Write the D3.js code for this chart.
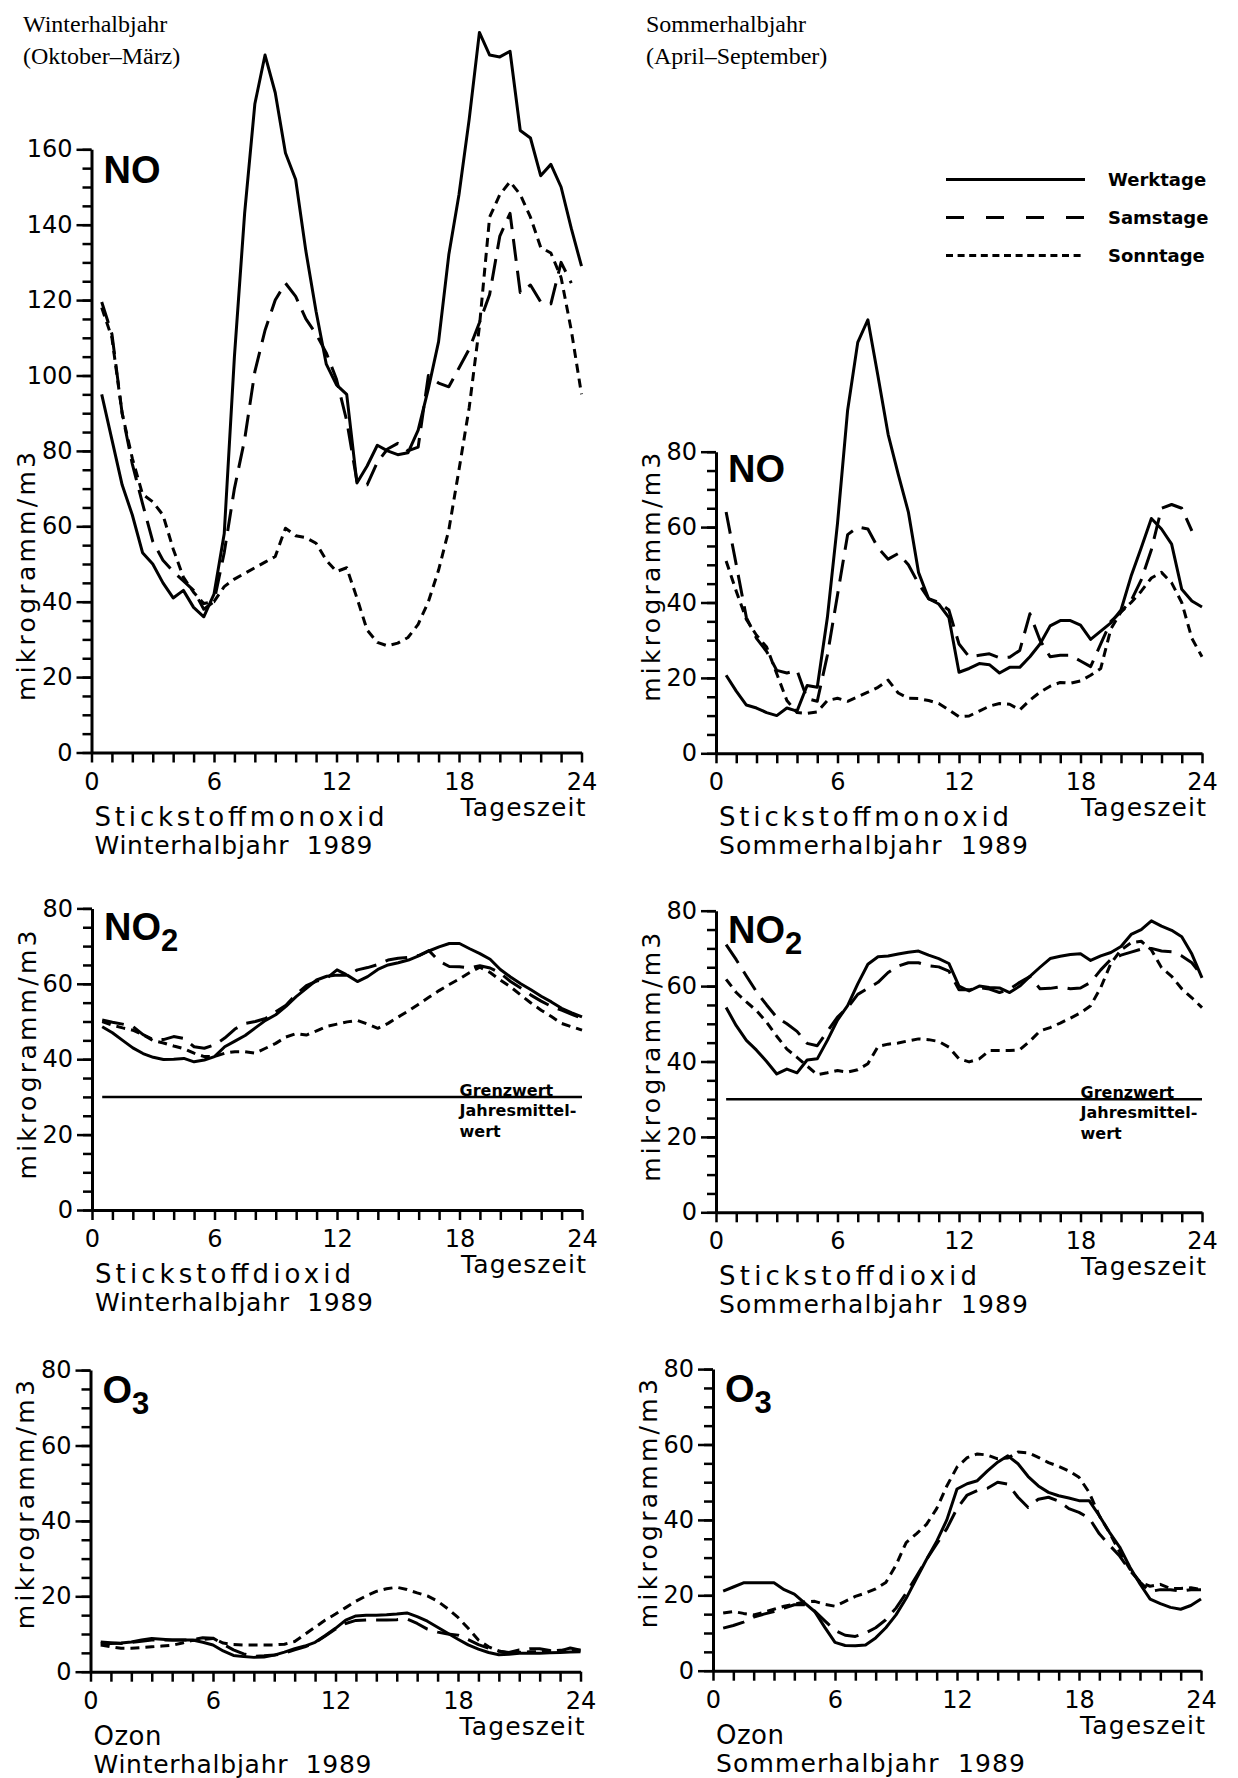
<!DOCTYPE html>
<html>
<head>
<meta charset="utf-8">
<script src="https://cdn.jsdelivr.net/npm/d3@7"></script>
<style>
  body { margin: 0; background: #fff; }
  svg text { font-family: "DejaVu Sans", sans-serif; fill: #000; }
</style>
</head>
<body>
<svg id="chart" width="1238" height="1778"></svg>
<script>
// Tageszeit (Stunden)
var hours = [0.5,1,1.5,2,2.5,3,3.5,4, 4.5,5,5.5,6,6.5,7,7.5,8, 8.5,9,9.5,10,10.5,11,11.5,12,
             12.5,13,13.5,14,14.5,15,15.5,16, 16.5,17,17.5,18,18.5,19,19.5,20, 20.5,21,21.5,22,22.5,23,23.5,24];

var seriesNames = ["Werktage", "Samstage", "Sonntage"];

// Stickstoffmonoxid, Winter
var noWinWerk = [95,83,71,63,53,50,45,41, 43,38.5,36,42,58,105,143,172, 185,175,159,152,133,117,103,97.5,
                 95,71.5,76,81.5,80,79,79.5,85.5, 96.5,109,132,148,168,191,185,184.5, 186,165,163,153,156,150,139,129];
var noWinSams = [119.5,111,90,76.5,66,56,51,48, 45.5,43,38,40,53,70,83,101, 112,120,124.5,121,115,111,106,99,
                 88,72,71,77,80.5,82,80,81, 100,98,97,102,107,114,121.5,137, 143,122,124,119.5,119,130,124.5,null];
var noWinSonn = [118,110,90,78,68.5,66.5,63,54, 46.5,42.5,39.5,40,44,46,47.5,49, 50.5,52,59.5,57.5,57,55.5,51,48,
                 49,41,32.5,29.2,28.3,29,30.5,34, 40,48.4,59,75,91.5,113,142,148, 151.4,148,142,134,132.5,126,112,95];

// Stickstoffmonoxid, Sommer
var noSumWerk = [20.7,16.5,12.8,12,10.8,10,12,11.2, 18,17.5,36,61,91,109,115,100, 84.6,74,64,48,41,39.6,36,21.5,
                 22.5,23.8,23.5,21.3,22.8,22.8,25.6,29, 33.8,35.2,35.2,34,30.2,32.4,34.6,38, 47,54.5,62.3,59.5,55.5,43.5,40.4,38.8];
var noSumSams = [64,50,36,30.5,27,22,21.3,22, 14.5,13.8,26,42,58,60,59.5,54.5, 51.5,53,50,45,41,40,38,29,
                 25.6,26,26.4,25.3,25.5,27.3,37,30, 25.6,26,26,24.5,23,29,35,37.5, 40.5,46,54,65,66,65,59,null];
var noSumSonn = [51,43,35.5,31.3,28.2,21.1,14,10.8, 10.6,11,14,14.6,13.8,15,16.2,17.5, 19.4,16,14.6,14.5,14,13.2,11.5,9.7,
                 9.9,11.2,12.5,13.2,13,11.5,14.1,16.2, 17.8,18.8,18.6,19.2,20.7,22.5,33,37.5, 40,43,46.5,48,45.2,40,30.5,25.6];

// Stickstoffdioxid, Winter
var no2WinWerk = [48.6,47,45,43,41.5,40.5,39.9,40, 40.2,39.3,39.8,40.7,43.3,44.8,46.3,48.3, 50.3,51.8,54,56.6,58.8,61,62,62.3,
                  62.3,60.6,61.9,63.8,65,65.6,66.3,67.4, 68.7,69.8,70.7,70.7,69.3,68,66.5,63.8, 61.8,60,58.4,56.7,55.2,53.5,52.3,51.2];
var no2WinSams = [50.4,49.8,49.3,48.7,46.5,45.2,45.2,46, 45.5,43.3,42.9,43.8,45.6,48,49.5,50, 50.8,52.6,54.3,57.2,59.5,60.7,61.5,63.7,
                  62.3,63.7,64.3,65.1,66.3,66.8,67,67.5, 68.8,66,64.6,64.5,64.2,64.8,64.2,62.8, 60.6,58.9,57,55.4,54,53,51.9,50.8];
var no2WinSonn = [50,49,48.3,47.7,46.5,44.9,44.3,43.5, 42.8,41.6,40.7,40.7,41.6,42,42,41.6, 42.9,44.2,45.9,46.8,46.4,47.5,48.7,49.3,
                  49.9,50.3,49.3,48.2,49.5,51.2,52.8,54.6, 56.4,58.2,59.8,61.3,63,64.4,63,61, 59.2,57,54.9,53,51.3,49.5,48.6,47.7];

// Stickstoffdioxid, Sommer
var no2SumWerk = [54.3,49.5,45.6,43,40,36.7,38,37, 40.4,40.7,45.6,51,54.8,60.6,65.8,67.8, 68,68.5,69,69.3,68.2,67.3,66,60,
                  58.7,60,59.6,59.5,58.3,60,62.6,65, 67.3,67.9,68.4,68.6,66.8,68,68.9,70.5, 73.7,75,77.3,75.9,74.8,73.1,68.5,62.2];
var no2SumSams = [71,67,62.7,58.5,55,51.7,50,48, 44.8,44.2,48,51.8,54.3,57.8,59.4,61, 63.6,65.3,66.2,66.2,65.4,65.1,64,59,
                  59,59.6,59.2,58.3,59.2,61,62.5,59.3, 59.4,59.8,59.3,59.5,61,64.3,67.1,68.2, 69,69.8,70,69.3,69.1,68,66.2,62.7];
var no2SumSonn = [61.8,58.3,55.8,53.5,50.4,46.7,43.3,41.1, 38.8,36.5,37,37.6,37.2,37.8,39.4,44, 44.6,44.9,45.5,46,45.8,45.3,43.8,40.7,
                  39.9,40.7,42.9,42.9,42.9,43.1,45.4,48.1, 49,50.2,51.5,52.9,54.8,59.6,66,69.6, 71.5,71.9,69.6,64.9,62.6,59.3,56.9,54.3];

// Ozon, Winter
var o3WinWerk = [7.5,7.5,7.6,7.9,8.4,8.8,8.6,8.4, 8.4,8.4,7.8,7.1,5.5,4.3,4,3.8, 3.9,4.4,5.2,6.1,6.8,7.8,9.6,11.5,
                 13.7,14.8,15,15,15.1,15.3,15.6,14.6, 13.4,11.8,10.2,8.6,7.1,6,5.1,4.5, 4.6,4.9,4.9,4.9,5,5.1,5.2,5.3];
var o3WinSams = [7.9,7.7,7.5,7.8,8.1,8.4,8.4,8.4, 8.4,8.5,9,8.9,7.3,5.8,4.7,4.1, 4.2,4.4,4.9,5.8,6.6,7.7,9.5,11.3,
                 12.8,13.6,13.7,13.7,13.7,13.8,14,12.8, 11.3,10.5,10,9.7,8.5,7.2,6.2,5.4, 5.1,5.8,6.1,6.1,5.6,5.5,6.3,5.7];
var o3WinSonn = [7.1,6.6,6.2,6.2,6.4,6.6,6.8,7, 7.6,8.3,8.6,8.8,7.6,7.2,7.1,7.1, 7.1,7.1,7.3,8,9.9,11.8,13.7,15.3,
                 17,18.7,20.1,21.3,22,22.4,21.8,20.9, 20.1,18.7,16.7,14.4,11.5,8.4,6.6,5.5, 4.9,5.1,5.3,5.3,5.5,5.7,5.7,5.7];

// Ozon, Sommer
var o3SumWerk = [21.1,22.2,23.3,23.3,23.3,23.3,21.5,20.3, 18,15.7,11.5,7.5,6.7,6.6,6.8,8.7, 11.4,14.8,19.2,24.4,29.5,34.3,40,48.2,
                 49.6,50.4,53,55.3,57,54.9,51.5,49, 47.3,46.4,45.8,45.1,45.1,41.1,36.7,32.8, 27.5,23,19,17.8,16.8,16.3,17.3,19];
var o3SumSams = [11.3,12,12.9,14.2,15,15.7,16.6,17.5, 17.5,15.8,13.2,10.7,9.4,9.1,10,11.4, 13.5,16.6,20.6,25,29.5,33.6,37.7,43,
                 46.6,47.8,48.4,50,49.5,46,43.3,45.5, 46,45,43,42,40.5,36.3,33.3,30.4, 26.6,23.5,21,21.5,21.5,21.1,21.5,21.5];
var o3SumSonn = [15.3,15.7,15.2,14.8,15.5,16.3,17.1,17.7, 18.2,18.4,17.6,17.1,18.4,19.7,20.6,21.7, 23.4,28,34,36.3,38.8,43,49,54,
                 56.5,57.5,57.2,56.2,56.4,58,57.8,56.6, 55.2,54.2,53,51.3,47.3,41.1,36.6,31.5, 27,23.5,22.4,22.9,21.8,21.8,22,21.5];

var xTicks = [0, 6, 12, 18, 24];
var grenzwert = 30;

var svg = d3.select("#chart");
var pxPerUnit = 3.77;

var dashes = [null, "22,10", "9,6"];
var legendDashes = [null, "18,22", "7,4.6"];

var panels = [
  {x0: 91.5, w: 490, y0: 752.5, top: 160, chem: "NO", sub: "", chemDy: 34, labOff: 176,
   name: "Stickstoffmonoxid", nameW: 290, season: "Winterhalbjahr  1989", seasonW: 278,
   data: [noWinWerk, noWinSams, noWinSonn], limit: false},
  {x0: 716, w: 486, y0: 753.3, top: 80, chem: "NO", sub: "", chemDy: 30, labOff: 176,
   name: "Stickstoffmonoxid", nameW: 290, season: "Sommerhalbjahr  1989", seasonW: 309,
   data: [noSumWerk, noSumSams, noSumSonn], limit: false},
  {x0: 92, w: 490, y0: 1210, top: 80, chem: "NO", sub: "2", chemDy: 32, labOff: 155,
   name: "Stickstoffdioxid", nameW: 256, season: "Winterhalbjahr  1989", seasonW: 278,
   data: [no2WinWerk, no2WinSams, no2WinSonn], limit: true},
  {x0: 716, w: 486, y0: 1212.3, top: 80, chem: "NO", sub: "2", chemDy: 32, labOff: 155,
   name: "Stickstoffdioxid", nameW: 258, season: "Sommerhalbjahr  1989", seasonW: 309,
   data: [no2SumWerk, no2SumSams, no2SumSonn], limit: true},
  {x0: 90.5, w: 490, y0: 1671.7, top: 80, chem: "O", sub: "3", chemDy: 33, labOff: 167,
   name: "Ozon", nameW: 68, season: "Winterhalbjahr  1989", seasonW: 278,
   data: [o3WinWerk, o3WinSams, o3WinSonn], limit: false},
  {x0: 713, w: 488, y0: 1670.7, top: 80, chem: "O", sub: "3", chemDy: 33, labOff: 167,
   name: "Ozon", nameW: 68, season: "Sommerhalbjahr  1989", seasonW: 309,
   data: [o3SumWerk, o3SumSams, o3SumSonn], limit: false}
];

panels.forEach(function(p) {
  var x = d3.scaleLinear().domain([0, 24]).range([p.x0, p.x0 + p.w]);
  var y = d3.scaleLinear().domain([0, p.top]).range([p.y0, p.y0 - p.top * pxPerUnit]);

  var g = svg.append("g");

  // y axis: minor ticks every 5, labelled ticks every 20
  var minor = d3.range(0, p.top + 1, 5);
  var major = d3.range(0, p.top + 1, 20);
  g.append("g")
    .attr("transform", "translate(" + p.x0 + ",0)")
    .call(d3.axisLeft(y).tickValues(minor).tickSize(9).tickSizeOuter(0).tickFormat(""))
    .call(function(a) {
      a.select(".domain").attr("stroke-width", 3);
      a.selectAll(".tick line").attr("stroke-width", 2.5);
    });
  g.append("g")
    .attr("transform", "translate(" + p.x0 + ",0)")
    .call(d3.axisLeft(y).tickValues(major).tickSize(15).tickSizeOuter(0).tickPadding(4))
    .call(function(a) {
      a.select(".domain").remove();
      a.selectAll(".tick line").attr("stroke-width", 2.5);
      a.selectAll("text").attr("font-size", 24).attr("fill", "#000");
    });

  // x axis: tick every hour
  g.append("g")
    .attr("transform", "translate(0," + p.y0 + ")")
    .call(d3.axisBottom(x).tickValues(d3.range(0, 25, 1)).tickSize(10).tickSizeOuter(0).tickPadding(10)
      .tickFormat(function(d) { return xTicks.indexOf(d) >= 0 ? d : ""; }))
    .call(function(a) {
      a.select(".domain").attr("stroke-width", 3);
      a.selectAll(".tick line").attr("stroke-width", 2.5);
      a.selectAll("text").attr("font-size", 24).attr("fill", "#000");
    });

  // Grenzwert line (NO2)
  if (p.limit) {
    g.append("line")
      .attr("x1", x(0.5)).attr("x2", x(24))
      .attr("y1", y(grenzwert)).attr("y2", y(grenzwert))
      .attr("stroke", "#000").attr("stroke-width", 2.5);
    var gt = g.append("text")
      .attr("x", x(18)).attr("y", y(grenzwert) - 1)
      .attr("font-size", 16).attr("font-weight", "bold");
    gt.append("tspan").attr("x", x(18)).text("Grenzwert");
    gt.append("tspan").attr("x", x(18)).attr("dy", 20).text("Jahresmittel-");
    gt.append("tspan").attr("x", x(18)).attr("dy", 21).text("wert");
  }

  // curves
  p.data.forEach(function(vals, i) {
    var pts = hours.map(function(h, k) { return [h, vals[k]]; });
    var line = d3.line()
      .defined(function(d) { return d[1] != null; })
      .x(function(d) { return x(d[0]); })
      .y(function(d) { return y(d[1]); });
    g.append("path")
      .datum(pts)
      .attr("d", line)
      .attr("fill", "none")
      .attr("stroke", "#000")
      .attr("stroke-width", 3)
      .attr("stroke-linejoin", "round")
      .attr("stroke-dasharray", dashes[i]);
  });

  // compound name
  var ct = g.append("text")
    .attr("x", p.x0 + 12).attr("y", y(p.top) + p.chemDy)
    .style("font-family", "'Liberation Sans', Arial, sans-serif")
    .attr("font-weight", "bold").attr("font-size", 38);
  ct.append("tspan").text(p.chem);
  if (p.sub) ct.append("tspan").attr("dy", 11).attr("font-size", 31).text(p.sub);

  // y label
  g.append("text")
    .attr("transform", "translate(" + (p.x0 - 65) + "," + (p.y0 - p.labOff) + ") rotate(-90)")
    .attr("text-anchor", "middle").attr("dy", "0.35em")
    .attr("font-size", 25)
    .attr("textLength", 249).attr("lengthAdjust", "spacing")
    .text("mikrogramm/m3");

  // x label and caption
  g.append("text")
    .attr("x", p.x0 + p.w - 121).attr("y", p.y0 + 63)
    .attr("font-size", 25)
    .attr("textLength", 125).attr("lengthAdjust", "spacing")
    .text("Tageszeit");
  g.append("text")
    .attr("x", p.x0 + 3).attr("y", p.y0 + 73)
    .attr("font-size", 26)
    .attr("textLength", p.nameW).attr("lengthAdjust", "spacing")
    .text(p.name);
  g.append("text")
    .attr("x", p.x0 + 3).attr("y", p.y0 + 101)
    .attr("font-size", 25)
    .attr("xml:space", "preserve")
    .attr("textLength", p.seasonW).attr("lengthAdjust", "spacing")
    .text(p.season);
});

// column headings
var heads = [
  {x: 23, lines: ["Winterhalbjahr", "(Oktober\u2013M\u00e4rz)"]},
  {x: 646, lines: ["Sommerhalbjahr", "(April\u2013September)"]}
];
heads.forEach(function(h) {
  h.lines.forEach(function(t, i) {
    svg.append("text")
      .attr("x", h.x).attr("y", 32 + i * 32)
      .style("font-family", "'Liberation Serif', 'Times New Roman', serif")
      .attr("font-size", 24)
      .text(t);
  });
});

// legend
var legendY = [179.5, 217.5, 255.5];
seriesNames.forEach(function(name, i) {
  svg.append("line")
    .attr("x1", 946).attr("x2", 1085)
    .attr("y1", legendY[i]).attr("y2", legendY[i])
    .attr("stroke", "#000").attr("stroke-width", 3)
    .attr("stroke-dasharray", legendDashes[i]);
  svg.append("text")
    .attr("x", 1108).attr("y", legendY[i]).attr("dy", "0.36em")
    .attr("font-size", 18).attr("font-weight", "bold")
    .text(name);
});
</script>
</body>
</html>
